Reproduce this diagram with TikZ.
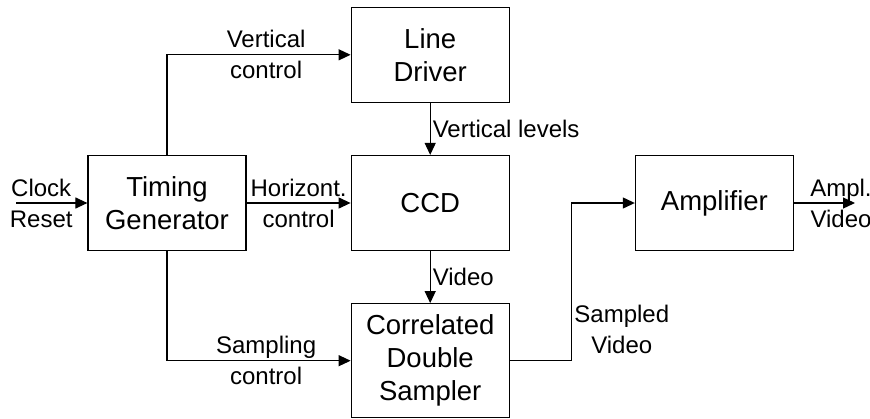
\documentclass[tikz,border=0pt]{standalone}
\usepackage{fontspec}
\setmainfont{Liberation Sans}
\usetikzlibrary{arrows.meta, positioning, calc}
\tikzset{
  block/.style={rectangle, draw=black, line width=0.6pt, fill=white, minimum width=79pt, minimum height=47.5pt, align=center, font=\fontsize{13.75pt}{16.5pt}\selectfont},
  lbl/.style={align=center, inner sep=1pt, font=\fontsize{12pt}{15.5pt}\selectfont},
  arrow/.style={-{Triangle[length=6pt, width=5.5pt]}, line width=0.6pt},
}

\begin{document}
\begin{tikzpicture}
\useasboundingbox (-83.5pt,-107.5pt) rectangle (351.5pt,101.5pt);
\node[block] (tg) at (0,0) {Timing\\Generator};
\node[block, right=52pt of tg] (ccd) {CCD};
\node[block, above=26pt of ccd] (ld) {Line\\Driver};
\node[block, below=26pt of ccd, minimum height=57pt] (cds) {Correlated\\Double\\Sampler};
\node[block, right=62.5pt of ccd] (amp) {Amplifier};
\coordinate[left=35.5pt of tg] (clk);
\coordinate[right=31pt of cds] (bend);
\coordinate[right=30.5pt of amp] (ampout);
% inputs and control lines
\draw[arrow] (clk) -- node[lbl, pos=0.35] {Clock\\Reset} (tg);
\draw[arrow] (tg) |- node[lbl, pos=0.77] {Vertical\\control} (ld);
\draw[arrow] (tg) -- node[lbl] {Horizont.\\control} (ccd);
\draw[arrow] (tg) |- node[lbl, pos=0.77] {Sampling\\control} (cds);
% signal path
\draw[arrow] (ld) -- node[lbl, right] {Vertical levels} (ccd);
\draw[arrow] (ccd) -- node[lbl, right] {Video} (cds);
\draw[line width=0.6pt] (cds) -- (bend);
\draw[arrow] (bend) |- node[lbl, right, pos=0.1] {Sampled\\Video} (amp);
\draw[arrow] (amp) -- node[lbl, pos=0.77] {Ampl.\\Video} (ampout);
\end{tikzpicture}
\end{document}
